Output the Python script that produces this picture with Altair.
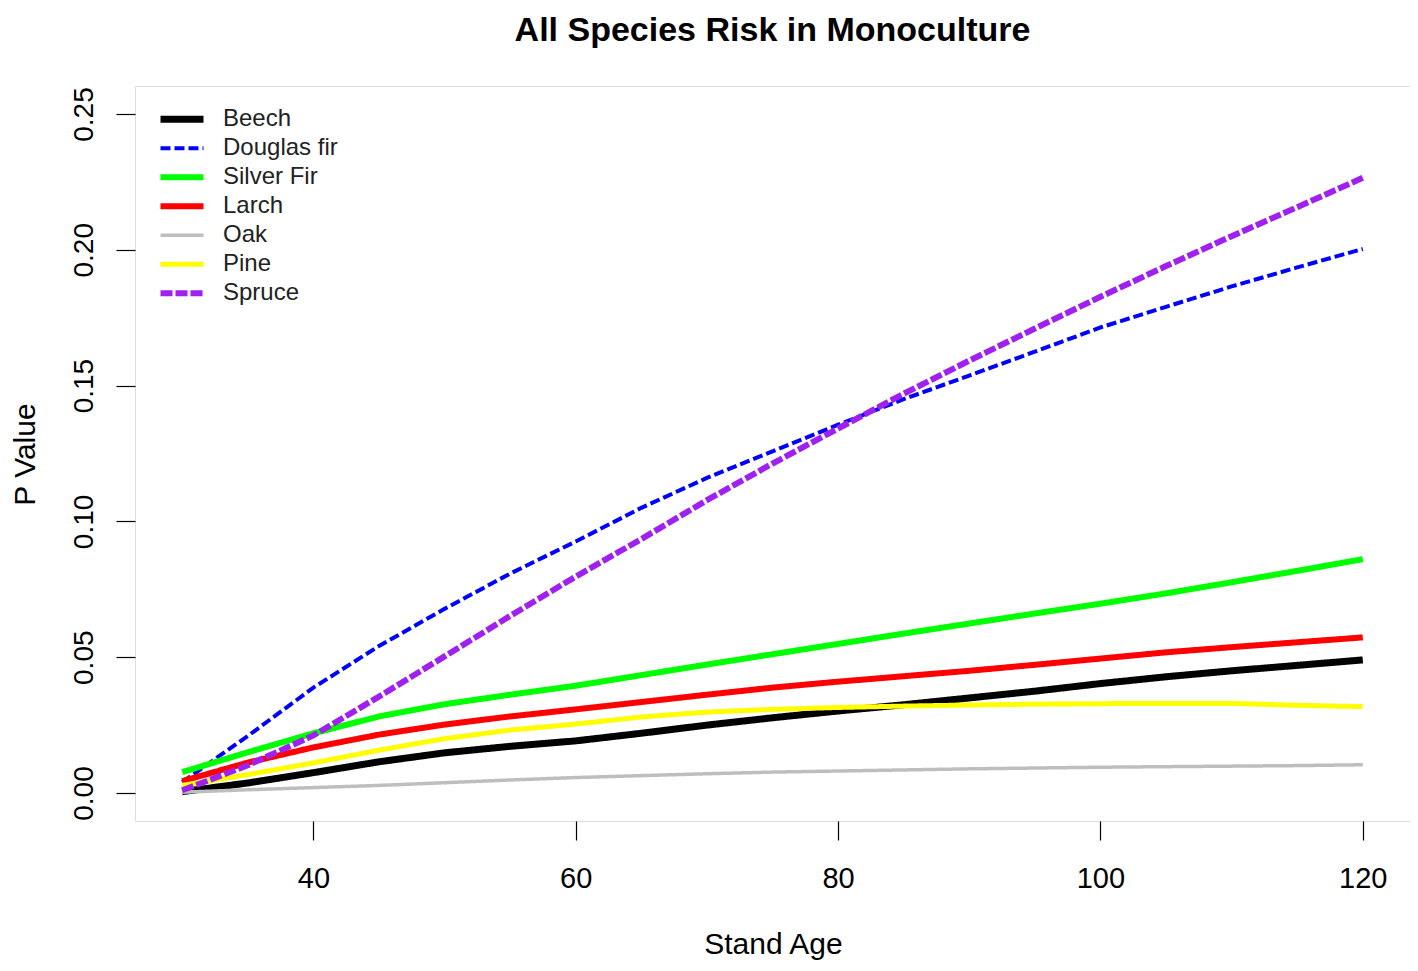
import altair as alt
import pandas as pd

ages = [30, 35, 40, 45, 50, 55, 60, 65, 70, 75, 80, 85, 90, 95, 100, 105, 110, 115, 120]

species = ["Beech", "Douglas fir", "Silver Fir", "Larch", "Oak", "Pine", "Spruce"]
colors = ["#000000", "#0000FF", "#00FF00", "#FF0000", "#BEBEBE", "#FFFF00", "#A020F0"]

beech = [0.0005, 0.0037, 0.0075, 0.0115, 0.0148, 0.0172, 0.0192, 0.0220, 0.0250, 0.0277,
         0.0302, 0.0325, 0.0350, 0.0375, 0.0403, 0.0428, 0.0450, 0.0470, 0.0490]
douglas_fir = [0.0040, 0.0210, 0.0388, 0.0541, 0.0678, 0.0808, 0.0926, 0.1050, 0.1160, 0.1258,
               0.1356, 0.1450, 0.1537, 0.1625, 0.1714, 0.1790, 0.1865, 0.1935, 0.2003]
silver_fir = [0.0077, 0.0150, 0.0220, 0.0282, 0.0327, 0.0362, 0.0395, 0.0434, 0.0473, 0.0511,
              0.0549, 0.0587, 0.0624, 0.0661, 0.0697, 0.0735, 0.0776, 0.0818, 0.0861]
larch = [0.0044, 0.0112, 0.0168, 0.0215, 0.0252, 0.0282, 0.0308, 0.0335, 0.0362, 0.0388,
         0.0410, 0.0430, 0.0450, 0.0472, 0.0495, 0.0518, 0.0537, 0.0555, 0.0573]
oak = [0.0003, 0.0012, 0.0020, 0.0028, 0.0038, 0.0048, 0.0057, 0.0064, 0.0071, 0.0077,
       0.0081, 0.0085, 0.0089, 0.0092, 0.0095, 0.0097, 0.0099, 0.0101, 0.0104]
pine = [0.0028, 0.0068, 0.0111, 0.0158, 0.0200, 0.0232, 0.0254, 0.0280, 0.0298, 0.0308,
        0.0315, 0.0320, 0.0324, 0.0327, 0.0329, 0.0330, 0.0330, 0.0323, 0.0318]
spruce = [0.0010, 0.0102, 0.0212, 0.0355, 0.0503, 0.0652, 0.0797, 0.0935, 0.1078, 0.1213,
          0.1342, 0.1470, 0.1592, 0.1710, 0.1827, 0.1940, 0.2050, 0.2157, 0.2265]

series = [beech, douglas_fir, silver_fir, larch, oak, pine, spruce]

x_ticks = [40, 60, 80, 100, 120]
y_ticks = [0.0, 0.05, 0.10, 0.15, 0.20, 0.25]

rows = []
for name, vals in zip(species, series):
    for a, v in zip(ages, vals):
        rows.append({"age": a, "p": v, "species": name, "style": name})
df = pd.DataFrame(rows)

widths = [7, 4, 6, 6, 3.5, 5, 6]
dashes = [[1, 0], [10, 4], [1, 0], [1, 0], [1, 0], [1, 0], [12, 3]]

FONT = "Liberation Sans"

chart = alt.Chart(df).mark_line(strokeCap="butt").encode(
    x=alt.X("age:Q",
            scale=alt.Scale(domain=[26.4, 123.6], nice=False, zero=False),
            axis=alt.Axis(values=x_ticks, title="Stand Age", grid=False, domain=False,
                          tickSize=19, tickColor="#000000", tickWidth=1.2,
                          labelFontSize=29, labelFont=FONT, labelColor="#000000",
                          labelBaseline="middle", labelPadding=38, labelFlush=False,
                          titleFontSize=30, titleFont=FONT, titleFontWeight="normal",
                          titleColor="#000000", titleX=638, titleY=123,
                          titleBaseline="middle", titleAlign="center")),
    y=alt.Y("p:Q",
            scale=alt.Scale(domain=[-0.0103, 0.2603], nice=False, zero=False),
            axis=alt.Axis(values=y_ticks, format=".2f", title="P Value", grid=False, domain=False,
                          tickSize=19, tickColor="#000000", tickWidth=1.2,
                          labelFontSize=28, labelFont=FONT, labelColor="#000000",
                          labelAngle=270, labelAlign="center", labelBaseline="middle",
                          labelPadding=32, labelFlush=False,
                          titleFontSize=30, titleFont=FONT, titleFontWeight="normal",
                          titleColor="#000000", titleAngle=270, titleX=-110, titleY=368,
                          titleBaseline="middle", titleAlign="center")),
    color=alt.Color("species:N",
                    scale=alt.Scale(domain=species, range=colors),
                    legend=alt.Legend(title=None, orient="none", legendX=22, legendY=19,
                                      symbolType="stroke", symbolSize=1849,
                                      symbolStrokeWidth=2, labelFontSize=24, labelFont=FONT,
                                      labelColor="#222222", labelOffset=16, clipHeight=28.6,
                                      rowPadding=0, padding=0, symbolOffset=0)),
    strokeWidth=alt.StrokeWidth("style:N",
                                scale=alt.Scale(type="ordinal", domain=species, range=widths),
                                legend=None),
    strokeDash=alt.StrokeDash("style:N",
                              scale=alt.Scale(type="ordinal", domain=species, range=dashes),
                              legend=None),
).properties(
    width=1275,
    height=735,
    title=alt.TitleParams("All Species Risk in Monoculture", fontSize=34, font=FONT,
                          fontWeight="bold", color="#000000", anchor="middle", offset=38),
    autosize=alt.AutoSizeParams(type="none"),
    padding={"left": 127, "top": 78, "right": 0, "bottom": 142},
).configure_view(
    stroke="#000000", strokeWidth=1.5
).configure(background="#FFFFFF")

chart.save("out.html", embed_options={"renderer": "svg", "actions": False})
